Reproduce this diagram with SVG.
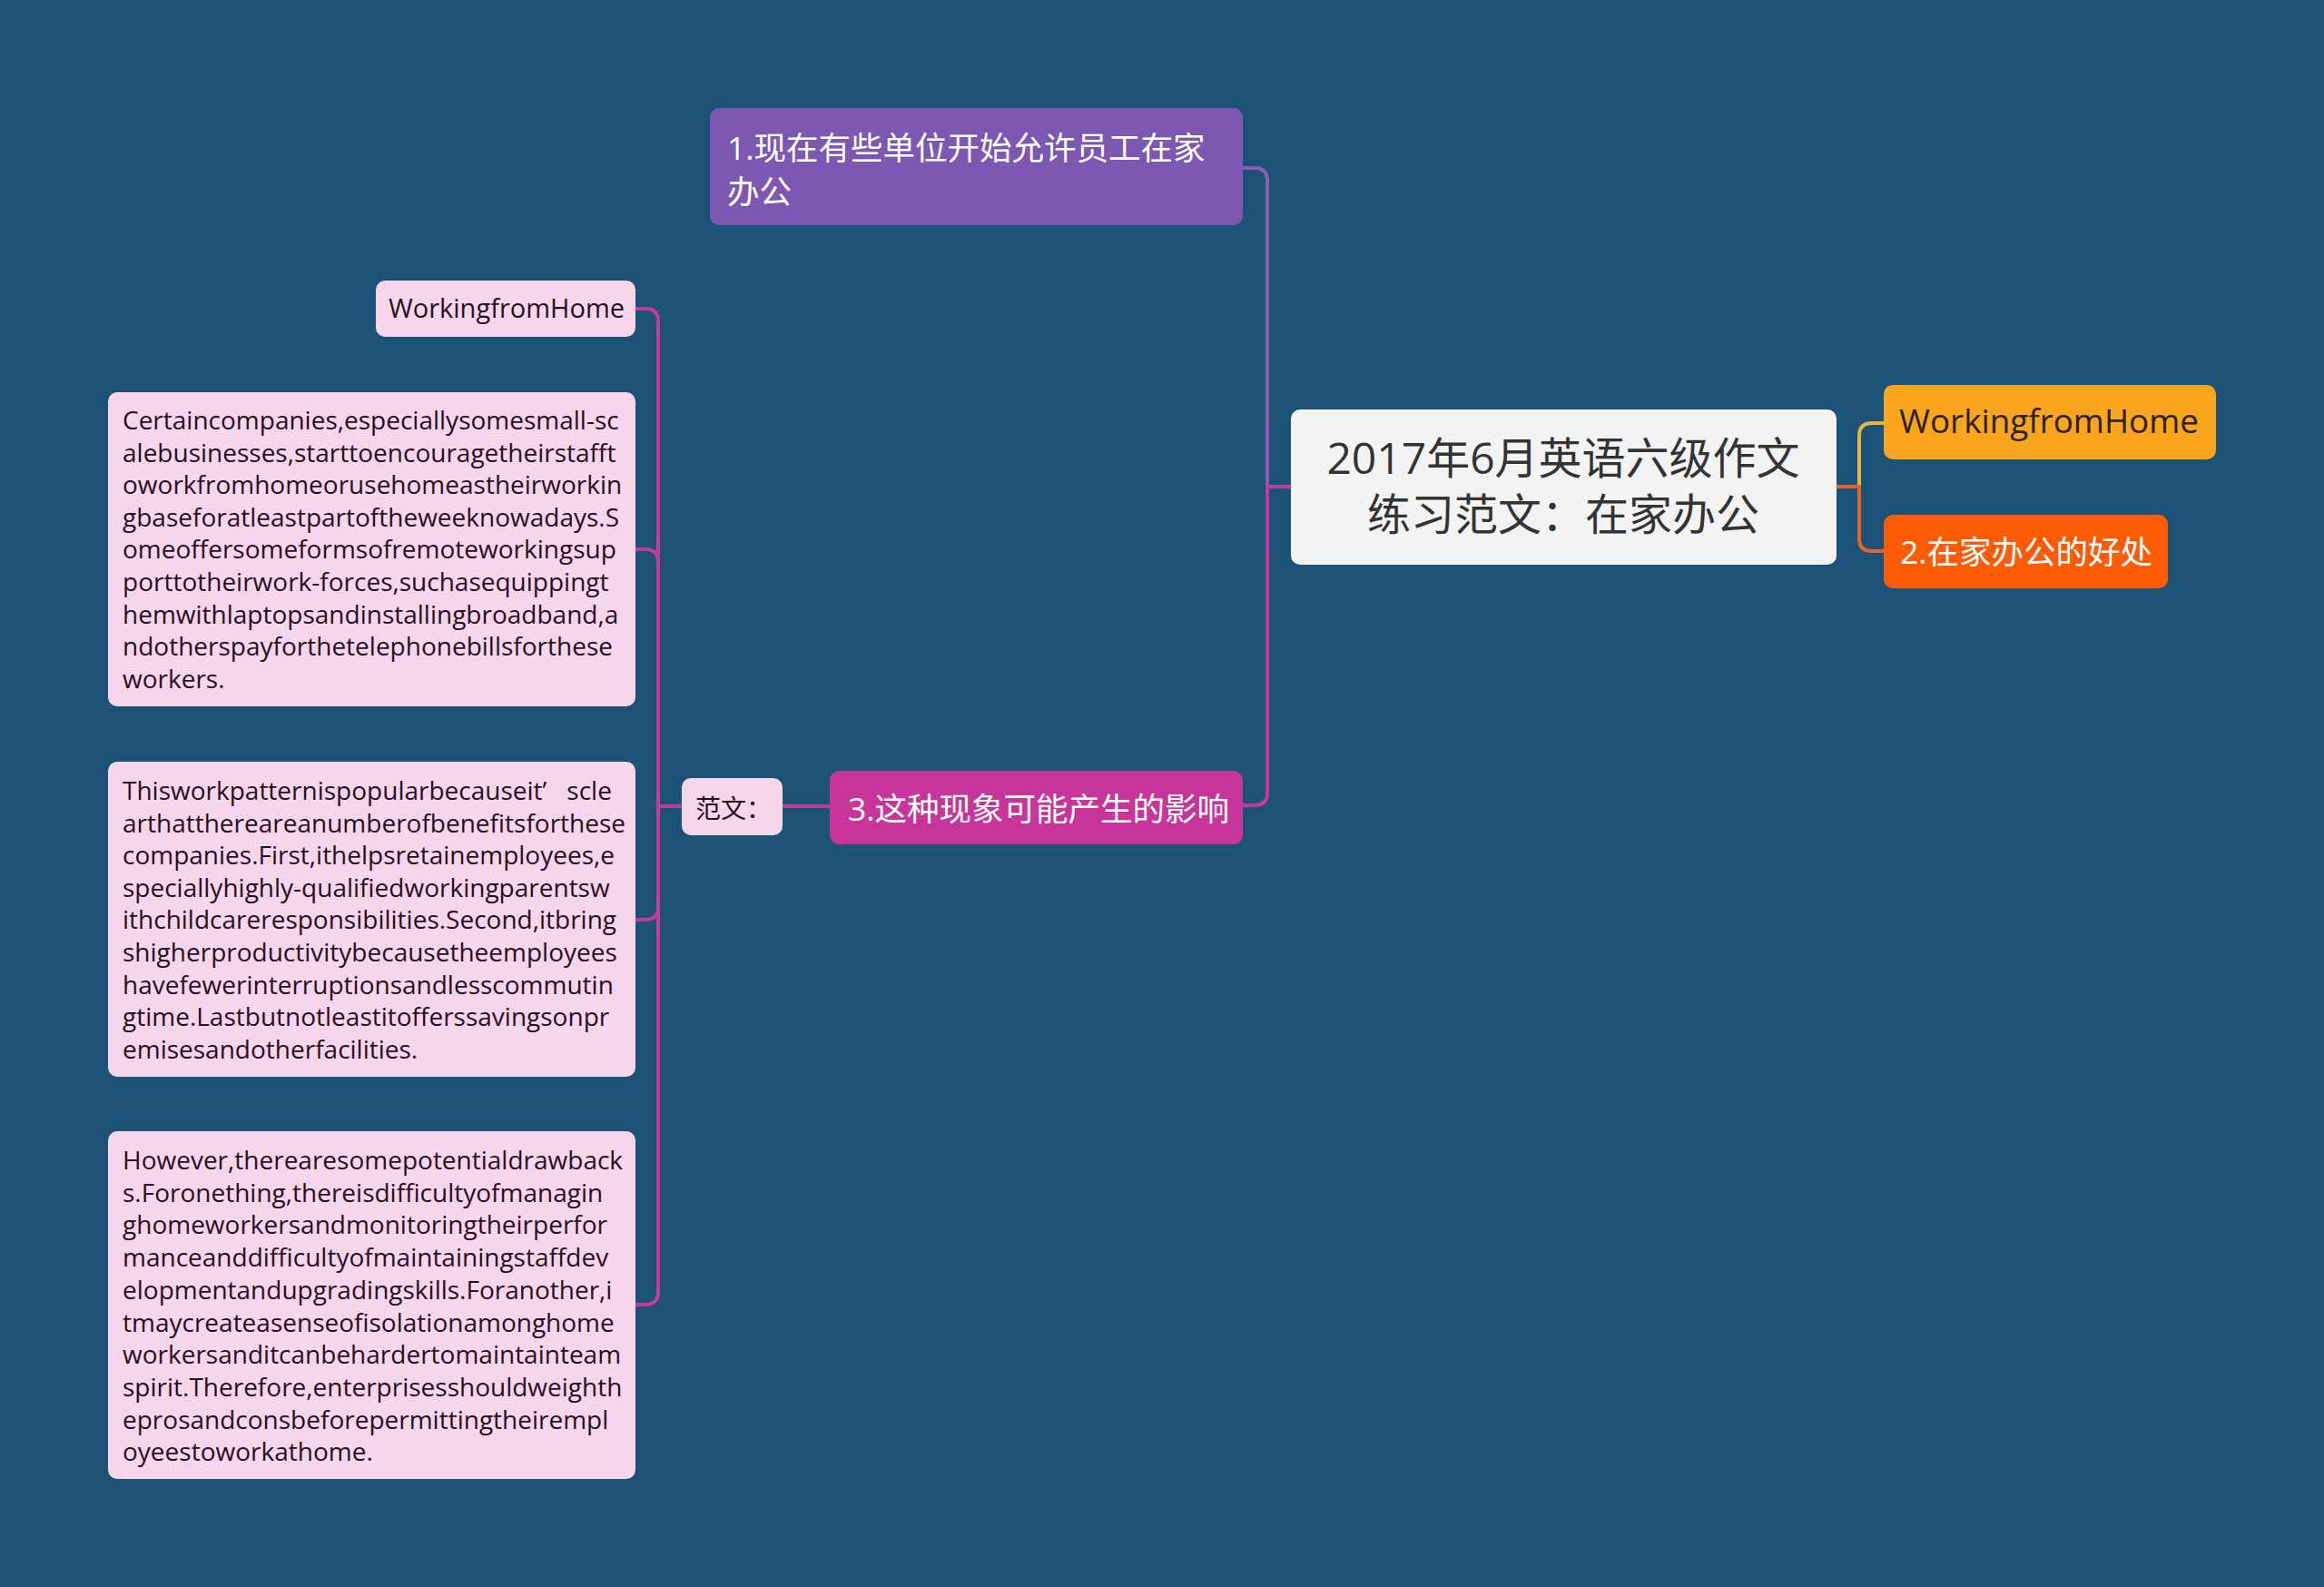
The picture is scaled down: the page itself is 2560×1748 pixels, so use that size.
<svg xmlns="http://www.w3.org/2000/svg" width="2560" height="1748" viewBox="0 0 2560 1748">
<defs>
<style>
.t{font-family:"Open Sans","Noto Sans CJK SC",sans-serif;}
.p{font-family:"Open Sans","Noto Sans CJK SC",sans-serif;font-size:28px;fill:#2b0d22;}
.c{fill:none;stroke-width:4;stroke-linecap:round;stroke-linejoin:round;}
.pink{fill:#f5d6eb;}
</style>
</defs>
<rect x="0" y="0" width="2560" height="1748" fill="#1b5276"/>
<g id="connectors">
<path class="c" stroke="#8a5cb6" d="M1422,536 H1396 V199 Q1396,185 1382,185 H1369"/>
<path class="c" stroke="#c4399d" d="M1422,536 H1396 V873 Q1396,887 1382,887 H1369"/>
<path class="c" stroke="#e7b441" d="M2023,536 H2048 V480 Q2048,466 2062,466 H2075"/>
<path class="c" stroke="#e8622a" d="M2023,536 H2048 V593 Q2048,607 2062,607 H2075"/>
<path class="c" stroke="#c4399d" d="M914,888 H862"/>
<path class="c" stroke="#c4399d" d="M751,888 H725 V354 Q725,340 711,340 H700"/>
<path class="c" stroke="#c4399d" d="M751,888 H725 V619 Q725,605 711,605 H700"/>
<path class="c" stroke="#c4399d" d="M751,888 H725 V999 Q725,1013 711,1013 H700"/>
<path class="c" stroke="#c4399d" d="M751,888 H725 V1423 Q725,1437 711,1437 H700"/>
</g>
<g id="root">
<rect x="1422" y="451" width="601" height="171" rx="10" fill="#f3f3f3"/>
<text class="t" font-size="48" fill="#333333" text-anchor="middle"><tspan x="1722" y="522">2017年6月英语六级作文</tspan><tspan x="1722" y="584">练习范文：在家办公</tspan></text>
</g>
<g id="node-wfh-right">
<rect x="2075" y="424" width="366" height="82" rx="10" fill="#f9a51d"/>
<text class="t" x="2092" y="477" font-size="36.8" fill="#2b2116">WorkingfromHome</text>
</g>
<g id="node-benefits">
<rect x="2075" y="567" width="313" height="81" rx="10" fill="#fc5c06"/>
<text class="t" x="2093" y="621" font-size="35.5" fill="#ffffff">2.在家办公的好处</text>
</g>
<g id="node-1">
<rect x="782" y="119" width="587" height="129" rx="10" fill="#7d58b3"/>
<text class="t" font-size="35.5" fill="#ffffff"><tspan x="801" y="175.5">1.现在有些单位开始允许员工在家</tspan><tspan x="801" y="223.5">办公</tspan></text>
</g>
<g id="node-3">
<rect x="914" y="849" width="455" height="81" rx="10" fill="#c7359b"/>
<text class="t" x="934" y="904" font-size="35.5" fill="#ffffff">3.这种现象可能产生的影响</text>
</g>
<g id="node-fanwen">
<rect class="pink" x="751" y="857" width="111" height="63" rx="10"/>
<text class="t" x="766" y="901" font-size="28" fill="#2b0d22">范文：</text>
</g>
<g id="node-wfh-left">
<rect class="pink" x="414" y="309" width="286" height="62" rx="10"/>
<text class="t" x="558" y="350" font-size="29" fill="#2b0d22" text-anchor="middle">WorkingfromHome</text>
</g>
<g id="node-para1">
<rect class="pink" x="119" y="432" width="581" height="346" rx="10"/>
<text class="p">
<tspan x="135" y="473">Certaincompanies,especiallysomesmall-sc</tspan>
<tspan x="135" y="508.6">alebusinesses,starttoencouragetheirstafft</tspan>
<tspan x="135" y="544.2">oworkfromhomeorusehomeastheirworkin</tspan>
<tspan x="135" y="579.8">gbaseforatleastpartoftheweeknowadays.S</tspan>
<tspan x="135" y="615.4">omeoffersomeformsofremoteworkingsup</tspan>
<tspan x="135" y="651">porttotheirwork-forces,suchasequippingt</tspan>
<tspan x="135" y="686.6">hemwithlaptopsandinstallingbroadband,a</tspan>
<tspan x="135" y="722.2">ndotherspayforthetelephonebillsforthese</tspan>
<tspan x="135" y="757.8">workers.</tspan>
</text>
</g>
<g id="node-para2">
<rect class="pink" x="119" y="839" width="581" height="347" rx="10"/>
<text class="p">
<tspan x="135" y="881">Thisworkpatternispopularbecauseit’</tspan><tspan dx="22">scle</tspan>
<tspan x="135" y="916.6">arthatthereareanumberofbenefitsforthese</tspan>
<tspan x="135" y="952.2">companies.First,ithelpsretainemployees,e</tspan>
<tspan x="135" y="987.8">speciallyhighly-qualifiedworkingparentsw</tspan>
<tspan x="135" y="1023.4">ithchildcareresponsibilities.Second,itbring</tspan>
<tspan x="135" y="1059">shigherproductivitybecausetheemployees</tspan>
<tspan x="135" y="1094.6">havefewerinterruptionsandlesscommutin</tspan>
<tspan x="135" y="1130.2">gtime.Lastbutnotleastitofferssavingsonpr</tspan>
<tspan x="135" y="1165.8">emisesandotherfacilities.</tspan>
</text>
</g>
<g id="node-para3">
<rect class="pink" x="119" y="1246" width="581" height="383" rx="10"/>
<text class="p">
<tspan x="135" y="1288">However,therearesomepotentialdrawback</tspan>
<tspan x="135" y="1323.7">s.Foronething,thereisdifficultyofmanagin</tspan>
<tspan x="135" y="1359.4">ghomeworkersandmonitoringtheirperfor</tspan>
<tspan x="135" y="1395.1">manceanddifficultyofmaintainingstaffdev</tspan>
<tspan x="135" y="1430.8">elopmentandupgradingskills.Foranother,i</tspan>
<tspan x="135" y="1466.5">tmaycreateasenseofisolationamonghome</tspan>
<tspan x="135" y="1502.2">workersanditcanbehardertomaintainteam</tspan>
<tspan x="135" y="1537.9">spirit.Therefore,enterprisesshouldweighth</tspan>
<tspan x="135" y="1573.6">eprosandconsbeforepermittingtheirempl</tspan>
<tspan x="135" y="1609.3">oyeestoworkathome.</tspan>
</text>
</g>
</svg>
